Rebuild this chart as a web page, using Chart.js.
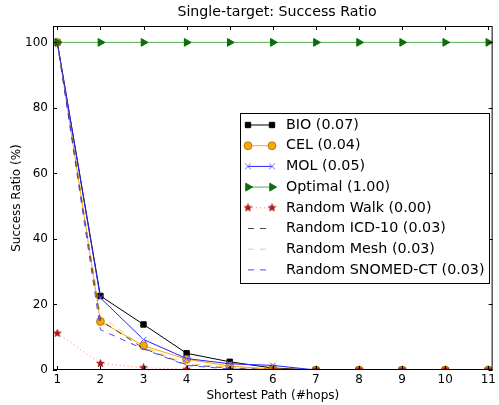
<!DOCTYPE html>
<html>
<head>
<meta charset="utf-8">
<script src="https://cdn.jsdelivr.net/npm/chart.js@4.4.0/dist/chart.umd.min.js"></script>
<style>
  html, body { margin: 0; padding: 0; background: #fff; }
  #wrap { width: 499px; height: 405px; }
</style>
</head>
<body>
<div id="wrap"><canvas id="chart" width="499" height="405"></canvas></div>
<script>
// data
const hops = [1, 2, 3, 4, 5, 6, 7, 8, 9, 10, 11];
const bio = [100, 22.6, 13.9, 5.1, 2.5, 0.6, 0, 0, 0, 0, 0];
const cel = [100, 14.8, 7.4, 3.3, 1.2, 0.3, 0, 0, 0, 0, 0];
const mol = [100, 22.0, 9.3, 3.5, 1.9, 1.4, 0, 0, 0, 0, 0];
const optimal = [100, 100, 100, 100, 100, 100, 100, 100, 100, 100, 100];
const randomWalk = [11.2, 2.0, 0.7, 0.2, 0, 0, 0, 0, 0, 0, 0];
const randomIcd = [100, 15.2, 6.6, 1.6, 0.6, 0.2, 0, 0, 0, 0, 0];
const randomMesh = [100, 16.5, 7.0, 2.0, 0.8, 0.3, 0, 0, 0, 0, 0];
const randomSnomed = [100, 12.3, 6.4, 1.4, 0.3, 0.1, 0, 0, 0, 0, 0];

const seriesLabels = ['BIO (0.07)', 'CEL (0.04)', 'MOL (0.05)', 'Optimal (1.00)', 'Random Walk (0.00)',
    'Random ICD-10 (0.03)', 'Random Mesh (0.03)', 'Random SNOMED-CT (0.03)'];
const xTicks = [1, 2, 3, 4, 5, 6, 7, 8, 9, 10, 11];
const yTicks = [0, 20, 40, 60, 80, 100];

const FONT = "'DejaVu Sans', sans-serif";

// filled star marker like matplotlib '*'
function makeStar(size, fill, edge) {
    const c = document.createElement('canvas');
    c.width = size; c.height = size;
    const g = c.getContext('2d');
    const cx = size / 2, cy = size / 2, ro = size / 2 - 0.5, ri = ro * 0.42;
    g.beginPath();
    for (let i = 0; i < 10; i++) {
        const r = i % 2 === 0 ? ro : ri;
        const a = -Math.PI / 2 + i * Math.PI / 5;
        g.lineTo(cx + r * Math.cos(a), cy + r * Math.sin(a));
    }
    g.closePath();
    g.fillStyle = fill; g.fill();
    g.strokeStyle = edge; g.lineWidth = 0.6; g.stroke();
    return c;
}
const star = makeStar(9, '#dd0000', '#700000');

function series(data, o) {
    return Object.assign({
        data: data,
        borderWidth: 1,
        fill: false,
        tension: 0,
        clip: 0,
        pointRadius: 0,
        pointBorderWidth: 1
    }, o);
}

const datasets = [
    series(bio, { label: seriesLabels[0], borderColor: '#000', pointStyle: 'rect', pointRadius: 3.8,
        pointBackgroundColor: '#000', pointBorderColor: '#000', order: 8 }),
    series(cel, { label: seriesLabels[1], borderColor: '#ffa500', pointStyle: 'circle', pointRadius: 4,
        pointBackgroundColor: '#ffa500', pointBorderColor: '#7a5200', pointBorderWidth: 0.6, order: 7 }),
    series(mol, { label: seriesLabels[2], borderColor: '#2222ff', pointStyle: 'crossRot', pointRadius: 4,
        pointBorderColor: '#6666ff', order: 6 }),
    series(optimal, { label: seriesLabels[3], borderColor: '#55b055', pointStyle: 'triangle', pointRotation: 90,
        pointRadius: 4.5, pointBackgroundColor: '#0b6e0b', pointBorderColor: '#0b6e0b', order: 5 }),
    series(randomWalk, { label: seriesLabels[4], borderColor: '#ff8080', borderDash: [1, 3],
        pointStyle: star, pointRadius: 4, order: 4 }),
    series(randomIcd, { label: seriesLabels[5], borderColor: 'rgba(0,0,0,0.7)', borderDash: [6, 6], order: 3 }),
    series(randomMesh, { label: seriesLabels[6], borderColor: 'rgba(255,165,0,0.6)', borderDash: [6, 6], order: 2 }),
    series(randomSnomed, { label: seriesLabels[7], borderColor: 'rgba(40,40,255,0.85)', borderDash: [6, 6], order: 1 })
];

// matplotlib style frame with inward ticks
const framePlugin = {
    id: 'frame',
    afterDraw(chart) {
        const { ctx, chartArea: a, scales } = chart;
        ctx.save();
        ctx.strokeStyle = '#000';
        ctx.lineWidth = 1;
        ctx.strokeRect(a.left + 0.5, a.top + 0.5, a.right - a.left - 1, a.bottom - a.top - 1);
        ctx.beginPath();
        xTicks.forEach(v => {
            const x = Math.round(scales.x.getPixelForValue(v)) + 0.5;
            ctx.moveTo(x, a.bottom); ctx.lineTo(x, a.bottom - 4);
            ctx.moveTo(x, a.top); ctx.lineTo(x, a.top + 4);
        });
        yTicks.forEach(v => {
            const y = Math.round(scales.y.getPixelForValue(v)) + 0.5;
            ctx.moveTo(a.left, y); ctx.lineTo(a.left + 4, y);
            ctx.moveTo(a.right, y); ctx.lineTo(a.right - 4, y);
        });
        ctx.stroke();
        ctx.restore();
    }
};

// legend box inside the plot area
const legendPlugin = {
    id: 'boxLegend',
    afterDraw(chart) {
        const ctx = chart.ctx;
        const bx = 240, by = 113, bw = 249, bh = 170;
        ctx.save();
        ctx.fillStyle = '#fff';
        ctx.fillRect(bx, by, bw, bh);
        ctx.strokeStyle = '#000';
        ctx.lineWidth = 1;
        ctx.strokeRect(bx + 0.5, by + 0.5, bw, bh);
        ctx.font = '14.3px ' + FONT;
        ctx.textBaseline = 'middle';
        ctx.fillStyle = '#000';
        datasets.forEach((ds, i) => {
            const y = 125 + i * 20.7;
            ctx.save();
            ctx.strokeStyle = ds.borderColor;
            ctx.lineWidth = 1;
            ctx.setLineDash(ds.borderDash || []);
            ctx.beginPath();
            ctx.moveTo(248, y); ctx.lineTo(272, y);
            ctx.stroke();
            ctx.setLineDash([]);
            if (ds.pointRadius > 0) {
                [248, 272].forEach(px => {
                    ctx.fillStyle = ds.pointBackgroundColor || ds.borderColor;
                    ctx.strokeStyle = ds.pointBorderColor || ds.borderColor;
                    ctx.lineWidth = ds.pointBorderWidth;
                    Chart.helpers.drawPoint(ctx, {
                        pointStyle: ds.pointStyle,
                        radius: ds.pointRadius,
                        rotation: ds.pointRotation || 0,
                        borderWidth: ds.pointBorderWidth
                    }, px, y);
                });
            }
            ctx.restore();
            ctx.fillText(ds.label, 286, y);
        });
        ctx.restore();
    }
};

new Chart(document.getElementById('chart'), {
    type: 'line',
    data: { labels: hops, datasets: datasets.map(d => Object.assign({}, d, {
        data: d.data.map((v, i) => ({ x: hops[i], y: v }))
    })) },
    options: {
        responsive: false,
        animation: false,
        layout: { padding: { top: 26, right: 3, left: 0, bottom: 0 } },
        plugins: {
            legend: { display: false },
            tooltip: { enabled: false },
            title: { display: false }
        },
        scales: {
            x: {
                type: 'linear',
                min: 0.9,
                max: 11.1,
                grid: { display: false, drawTicks: false },
                border: { display: false },
                afterBuildTicks: s => { s.ticks = xTicks.map(v => ({ value: v })); },
                afterFit: s => { s.height = 35; },
                ticks: { color: '#000', font: { family: FONT, size: 12 }, padding: 3, maxRotation: 0 },
                title: { display: true, text: 'Shortest Path (#hops)', color: '#000',
                    font: { family: FONT, size: 12 }, padding: { top: 0, bottom: 2 } }
            },
            y: {
                min: 0,
                max: 105,
                grid: { display: false, drawTicks: false },
                border: { display: false },
                afterBuildTicks: s => { s.ticks = yTicks.map(v => ({ value: v })); },
                afterFit: s => { s.width = 53; },
                ticks: { color: '#000', font: { family: FONT, size: 12 }, padding: 5 },
                title: { display: true, text: 'Success Ratio (%)', color: '#000',
                    font: { family: FONT, size: 12 }, padding: { top: 10, bottom: 0 } }
            }
        }
    },
    plugins: [framePlugin, legendPlugin, {
        id: 'topTitle',
        afterDraw(chart) {
            const ctx = chart.ctx;
            ctx.save();
            ctx.font = '14.2px ' + FONT;
            ctx.fillStyle = '#000';
            ctx.textAlign = 'center';
            ctx.textBaseline = 'middle';
            ctx.fillText('Single-target: Success Ratio', 277, 12);
            ctx.restore();
        }
    }]
});
</script>
</body>
</html>
